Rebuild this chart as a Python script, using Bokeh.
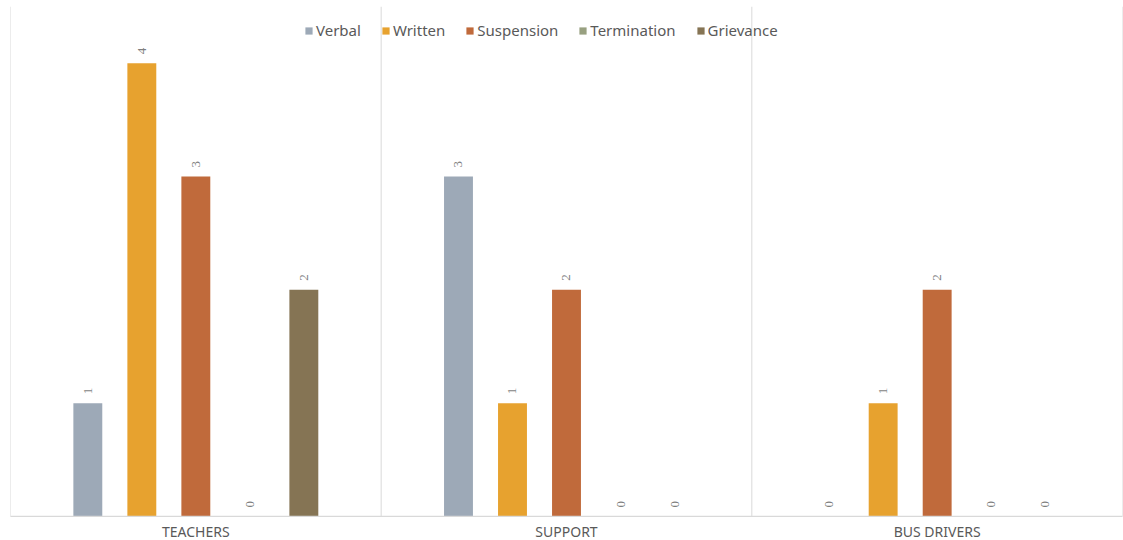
from bokeh.plotting import figure
from bokeh.models import ColumnDataSource, FactorRange, Range1d, Span, Legend, LegendItem, LabelSet
from bokeh.core.properties import value
from bokeh.layouts import column
from bokeh.transform import dodge
from bokeh.embed import file_html
from bokeh.resources import INLINE
import math

categories = ["TEACHERS", "SUPPORT", "BUS DRIVERS"]
series = ["Verbal", "Written", "Suspension", "Termination", "Grievance"]
verbal = [1, 3, 0]
written = [4, 1, 1]
suspension = [3, 2, 2]
termination = [0, 0, 0]
grievance = [2, 0, 0]
colors = ["#9DA9B7", "#E7A22F", "#C06A3B", "#98A080", "#857454"]

values = [verbal, written, suspension, termination, grievance]
offsets = [-0.2914, -0.1457, 0.0, 0.1457, 0.2914]

xr = FactorRange(factors=categories, range_padding=0)
p = figure(width=1123, height=517, x_range=xr,
           y_range=Range1d(-0.0088, 4.50), output_backend="svg", toolbar_location=None,
           min_border_left=10, min_border_right=1, min_border_top=6, min_border_bottom=0)
p.outline_line_color = None
p.xaxis.visible = False
p.yaxis.visible = False
p.xgrid.grid_line_color = None
p.ygrid.grid_line_color = None

for loc in [0, 1, 2, 3]:
    p.add_layout(Span(location=loc, dimension="height", line_color="#D9D9D9", line_width=1))
p.add_layout(Span(location=0, dimension="width", line_color="#D9D9D9", line_width=1.5))

items = []
for name, vals, col, off in zip(series, values, colors, offsets):
    src = ColumnDataSource(dict(cat=categories, v=vals, lbl=[str(x) for x in vals]))
    r = p.vbar(x=dodge("cat", off, range=xr), top="v", width=0.078, source=src,
               fill_color=col, line_color=None)
    labels = LabelSet(x=dodge("cat", off, range=xr), y="v", text="lbl", source=src,
                      angle=math.pi / 2, text_align="left", text_baseline="middle",
                      x_offset=0, y_offset=9, text_font="Noto Sans", text_font_size="13px",
                      text_color="#7F7F7F")
    p.add_layout(labels)
    items.append(LegendItem(label=name, renderers=[r]))

legend = Legend(items=items, orientation="horizontal", location=(294, 477),
                glyph_width=9, glyph_height=9, label_standoff=3, spacing=20,
                padding=0, margin=0, border_line_color=None, background_fill_alpha=0,
                label_text_font="Noto Sans", label_text_font_size="15px",
                label_text_color="#595959", label_height=15)
p.add_layout(legend, "center")

# category labels strip
p2 = figure(width=1123, height=23, x_range=xr, y_range=Range1d(0, 1),
            output_backend="svg", toolbar_location=None,
            min_border_left=10, min_border_right=1, min_border_top=0, min_border_bottom=0)
p2.outline_line_color = None
p2.xaxis.visible = False
p2.yaxis.visible = False
p2.xgrid.grid_line_color = None
p2.ygrid.grid_line_color = None
cat_src = ColumnDataSource(dict(cat=categories, y=[0.5] * len(categories)))
p2.text(x="cat", y="y", text="cat", source=cat_src, y_offset=2,
        text_align="center", text_baseline="middle", text_font=value("Noto Sans"),
        text_font_size=value("14px"), text_color="#595959")

layout = column(p, p2, spacing=0)
open("out.html", "w").write(file_html(layout, INLINE))
